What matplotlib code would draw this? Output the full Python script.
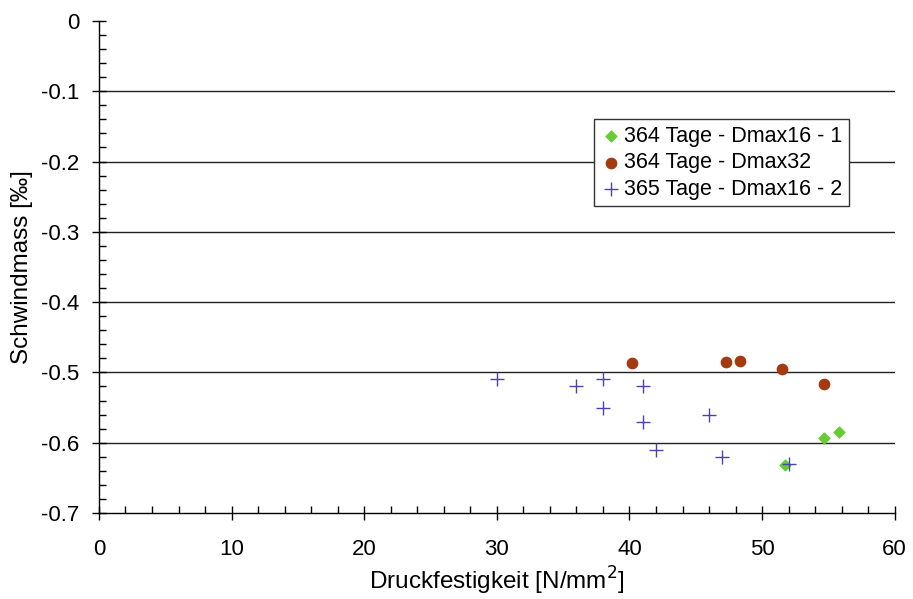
import matplotlib
matplotlib.use('Agg')
import matplotlib.pyplot as plt
from matplotlib.ticker import MultipleLocator, FuncFormatter

plt.rcParams['font.family'] = ['Liberation Sans', 'DejaVu Sans']

# 364 Tage - Dmax16-1
d16_1_x = [51.7, 54.7, 55.8]
d16_1_y = [-0.632, -0.594, -0.585]

# 364 Tage - Dmax32
d32_x = [40.2, 47.3, 48.3, 51.5, 54.7]
d32_y = [-0.486, -0.485, -0.484, -0.495, -0.516]

# 365 Tage - Dmax16-2
d16_2_x = [30, 36, 38, 38, 41, 41, 42, 46, 47, 52]
d16_2_y = [-0.51, -0.52, -0.51, -0.55, -0.52, -0.57, -0.61, -0.56, -0.62, -0.63]

fig = plt.figure(figsize=(9.13, 5.99), dpi=100)
ax = fig.add_axes([0.1084, 0.1436, 0.8716, 0.8214])

for yv in [-0.1, -0.2, -0.3, -0.4, -0.5, -0.6]:
    ax.axhline(yv, color='#222222', lw=1.0, zorder=1)

ax.scatter(d16_1_x, d16_1_y, marker='D', s=30, color='#66cc33', zorder=3,
           label='364 Tage - Dmax16 - 1')
ax.scatter(d32_x, d32_y, marker='o', s=55, color='#a33a10', zorder=3,
           label='364 Tage - Dmax32')
ax.scatter(d16_2_x, d16_2_y, marker='+', s=110, color='#4a44b0', linewidths=1.0,
           zorder=4, label='365 Tage - Dmax16 - 2')

ax.set_xlim(0, 60)
ax.set_ylim(-0.7, 0)
ax.xaxis.set_major_locator(MultipleLocator(10))
ax.xaxis.set_minor_locator(MultipleLocator(2))
ax.yaxis.set_major_locator(MultipleLocator(0.1))
ax.yaxis.set_minor_locator(MultipleLocator(0.02))
ax.yaxis.set_major_formatter(FuncFormatter(lambda v, p: '0' if abs(v) < 1e-9 else ('%.1f' % v)))

ax.tick_params(which='major', direction='inout', length=10, width=1, labelsize=16)
ax.tick_params(axis='x', which='major', pad=14)
ax.tick_params(axis='y', which='major', pad=9)
ax.tick_params(which='minor', direction='in', length=5, width=1)

for s in ['top', 'right']:
    ax.spines[s].set_visible(False)
for s in ['left', 'bottom']:
    ax.spines[s].set_linewidth(1)

ax.set_xlabel('Druckfestigkeit [N/mm$^2$]', fontsize=17.5, labelpad=3)
ax.set_ylabel('Schwindmass [‰]', fontsize=17.5, labelpad=6)

leg = ax.legend(loc='upper left', bbox_to_anchor=(0.622, 0.80), fontsize=15.5,
                frameon=True, fancybox=False, borderpad=0.3, handletextpad=0.1,
                handlelength=1.0, labelspacing=0.25, borderaxespad=0)
leg.get_frame().set_edgecolor('#333333')
leg.get_frame().set_linewidth(1)
leg.get_frame().set_alpha(1)

fig.savefig('out.png', dpi=100)
